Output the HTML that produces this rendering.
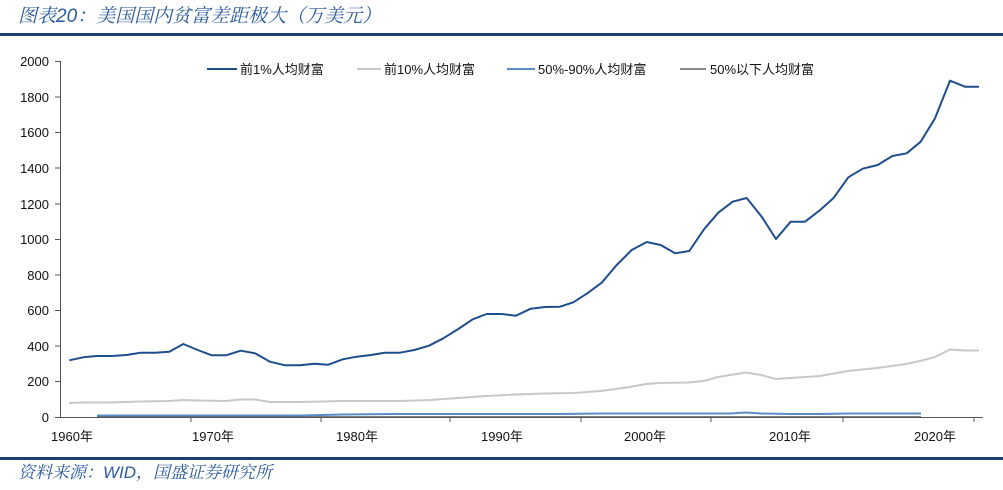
<!DOCTYPE html>
<html><head><meta charset="utf-8"><style>
body{margin:0;background:#fff;width:1003px;height:485px;overflow:hidden;font-family:"Liberation Sans","Noto Sans CJK SC",sans-serif}
</style></head><body>
<svg width="1003" height="485" viewBox="0 0 1003 485" xmlns="http://www.w3.org/2000/svg" font-family="Liberation Sans, Noto Sans CJK SC, sans-serif">
<text x="18" y="22" font-size="19" font-style="italic" fill="#2a5a9a" font-family="Liberation Sans, Noto Serif CJK SC, serif">图表20：美国国内贫富差距极大（万美元）</text>
<rect x="0" y="33" width="1003" height="3" fill="#1b3f6e"/>
<rect x="0" y="457" width="1003" height="3" fill="#1b3f6e"/>
<text x="18" y="478" font-size="17" font-style="italic" fill="#2a5a9a" font-family="Liberation Sans, Noto Serif CJK SC, serif">资料来源：WID，国盛证券研究所</text>
<g stroke="#555" stroke-width="1" fill="none">
<line x1="60.5" y1="61" x2="60.5" y2="417"/>
<line x1="60" y1="417.5" x2="983" y2="417.5"/>
<line x1="55" y1="61.5" x2="60" y2="61.5"/><line x1="55" y1="97" x2="60" y2="97"/><line x1="55" y1="132.5" x2="60" y2="132.5"/><line x1="55" y1="168" x2="60" y2="168"/><line x1="55" y1="204" x2="60" y2="204"/><line x1="55" y1="239.5" x2="60" y2="239.5"/><line x1="55" y1="275" x2="60" y2="275"/><line x1="55" y1="310.5" x2="60" y2="310.5"/><line x1="55" y1="346" x2="60" y2="346"/><line x1="55" y1="381.5" x2="60" y2="381.5"/><line x1="55" y1="417.5" x2="60" y2="417.5"/>
<line x1="191" y1="417" x2="191" y2="422"/><line x1="321" y1="417" x2="321" y2="422"/><line x1="450" y1="417" x2="450" y2="422"/><line x1="581" y1="417" x2="581" y2="422"/><line x1="711" y1="417" x2="711" y2="422"/><line x1="843" y1="417" x2="843" y2="422"/><line x1="974" y1="417" x2="974" y2="422"/>
</g>
<g font-size="13" fill="#111" text-anchor="end">
<text x="49" y="66">2000</text><text x="49" y="102">1800</text><text x="49" y="137">1600</text><text x="49" y="173">1400</text><text x="49" y="209">1200</text><text x="49" y="244">1000</text><text x="49" y="280">800</text><text x="49" y="315">600</text><text x="49" y="351">400</text><text x="49" y="386">200</text><text x="49" y="422">0</text>
</g>
<g font-size="13" fill="#111" text-anchor="middle">
<text x="72" y="441">1960年</text><text x="213" y="441">1970年</text><text x="357" y="441">1980年</text><text x="502" y="441">1990年</text><text x="645" y="441">2000年</text><text x="790" y="441">2010年</text><text x="935" y="441">2020年</text>
</g>
<g font-size="13" fill="#111">
<line x1="207" y1="69" x2="237" y2="69" stroke="#1f4e8c" stroke-width="2"/><text x="240" y="74">前1%人均财富</text>
<line x1="357" y1="69" x2="381" y2="69" stroke="#c8c8c8" stroke-width="2"/><text x="384" y="74">前10%人均财富</text>
<line x1="507" y1="69" x2="535" y2="69" stroke="#5b8cc8" stroke-width="2"/><text x="538" y="74">50%-90%人均财富</text>
<line x1="680" y1="69" x2="706" y2="69" stroke="#888" stroke-width="2"/><text x="710" y="74">50%以下人均财富</text>
</g>
<polyline fill="none" stroke="#555" stroke-width="1.5" points="97,417 921,417"/>
<polyline fill="none" stroke="#5b8cc8" stroke-width="2" points="97,415.5 300,415.5 343,414.5 400,414 560,414 600,413.5 660,413.5 730,413.5 746,412.5 761,413.5 790,414 820,414 848,413.5 921,413.5"/>
<polyline fill="none" stroke="#c8c8c8" stroke-width="2" points="69,403 83,402.5 111,402.5 140,401.5 169,401 183,400 197,400.5 226,401 240,399.5 255,399.5 270,402 300,402 343,401 400,401 430,400 458,398 486,396 516,394.5 544,393.5 573,393 601,391 630,387 646,384 660,383 688,382.5 704,381 718,377 746,372.5 761,375 776,379 790,378 820,376 848,371 877,368 906,364 920,361 935,357 950,349.5 965,350.5 979,350.5"/>
<polyline fill="none" stroke="#1f4e8c" stroke-width="2" stroke-linejoin="round" points="69.3,360.3 83.3,357.3 96.7,356 111.7,356 126.7,355 140.7,352.7 155,352.7 169.3,351.7 183.3,344 197.7,350 211.7,355.3 226,355.3 240.7,350.7 255,353.3 270,361.7 285,365.3 300,365.3 314.3,363.7 328.3,364.7 342.7,359.3 356.7,356.7 371,355 385,352.7 400,352.7 414.3,350 429,345.7 443.3,338.3 458.3,329 472.7,319.3 486.7,314 501.7,314 516,315.7 530.7,308.7 545,307 560,306.7 573.3,302.3 587.3,293.3 601.7,282.7 616.7,265 631.7,250 646.7,242 660.7,245 675,253.3 689.3,251 704,229.3 718.3,212.7 732.7,201.7 746.7,198 761.7,216.7 776,239 790.7,221.7 805,221.7 819.3,210.7 833.3,198.3 848.3,177.3 862.7,168.7 877.7,165 892.3,156 906.7,153.3 920.7,141.7 935,118.3 950,80.7 965,86.7 979,86.7"/>
</svg>
</body></html>
